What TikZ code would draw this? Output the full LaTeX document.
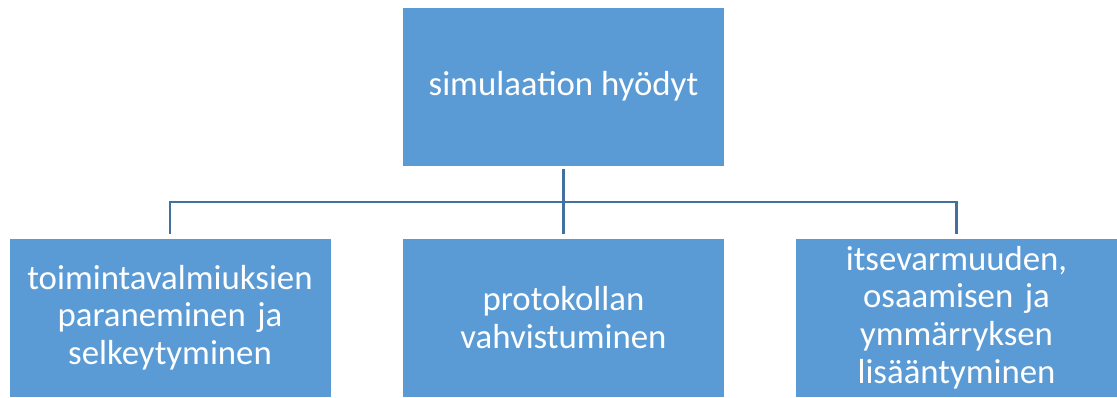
\documentclass[tikz,border=0pt]{standalone}
\usepackage{fontspec}
\setmainfont{Carlito}
\usetikzlibrary{positioning,calc}
\definecolor{boxblue}{HTML}{5B9BD5}
\definecolor{linkblue}{HTML}{41719C}

\begin{document}
\begin{tikzpicture}[
  x=0.02cm, y=-0.02cm,
  font=\fontsize{19.8}{21.5}\selectfont,
  root/.style={draw=white, line width=0.4pt, fill=boxblue, text=white, align=center,
               minimum width=6.44cm, minimum height=3.18cm, inner sep=0pt},
  leaf/.style={root, text width=6.2cm},
  link/.style={draw=linkblue, line width=1.6pt}
]
\useasboundingbox (0,0) rectangle (1117,397);
\node[root] (top) at (563.5,86.5) {simulaation hyödyt};
\node[leaf] (left) at (170,317.5) {toimintavalmiuksien\\paraneminen ja\\selkeytyminen};
\node[leaf] (mid) at (563.5,317.5) {protokollan\\vahvistuminen};
\node[leaf] (right) at (956.5,317.5) {itsevarmuuden,\\osaamisen ja\\ymmärryksen\\lisääntyminen};
\coordinate (bar) at (0,202);
\draw[link] ([yshift=-0.06cm]top.south) -- ([yshift=0.08cm]mid.north);
\draw[link] ([yshift=0.08cm]left.north) |- (bar -| right.north) -- ([yshift=0.08cm]right.north);
\end{tikzpicture}
\end{document}
